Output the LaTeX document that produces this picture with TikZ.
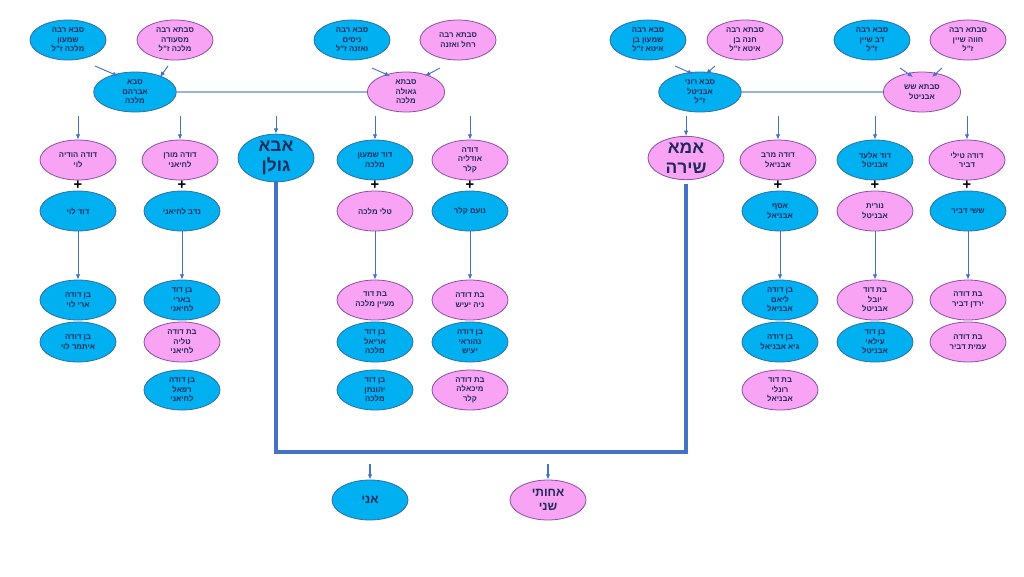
\documentclass[tikz,border=0pt]{standalone}
\usepackage{fontspec}
\setmainfont{Liberation Sans}
\usetikzlibrary{shapes.geometric,arrows.meta}
\TeXXeTstate=1
\newcommand{\heb}[1]{\beginR #1\endR}
\definecolor{bfill}{HTML}{00B0F0}
\definecolor{bdraw}{HTML}{2F6EA8}
\definecolor{pfill}{HTML}{F9A3F5}
\definecolor{pdraw}{HTML}{8A4FA8}
\definecolor{txt}{HTML}{1F2A5A}
\definecolor{arc}{HTML}{4472C4}
\definecolor{thinl}{HTML}{9DB3D6}
\begin{document}
\begin{tikzpicture}[x=0.75pt,y=-0.75pt,
 base/.style={ellipse,line width=0.6pt,inner sep=0pt,align=center,text=txt,
   font=\fontsize{5.8}{7.2}\selectfont\bfseries,minimum width=57pt,minimum height=30pt},
 b/.style={base,fill=bfill,draw=bdraw},
 p/.style={base,fill=pfill,draw=pdraw},
 big/.style={font=\fontsize{13}{15}\selectfont\bfseries},
 mid/.style={font=\fontsize{9}{11}\selectfont\bfseries},
 ar/.style={-{Latex[length=4pt,width=3.5pt]},draw=arc,line width=0.7pt},
 pl/.style={font=\fontsize{11}{11}\selectfont\bfseries,text=black,inner sep=0pt},
 thin/.style={draw=thinl,line width=0.8pt},
 thick/.style={draw=arc,line width=2.4pt}]
\useasboundingbox (0,0) rectangle (1024,576);
% great-grandparents
\node[b] (g1) at (68,40) {\heb{סבא רבה}\\\heb{שמעון}\\\heb{מלכה ז"ל}};
\node[p] (g2) at (175,40) {\heb{סבתא רבה}\\\heb{מסעודה}\\\heb{מלכה ז"ל}};
\node[b] (g3) at (352,40) {\heb{סבא רבה}\\\heb{ניסים}\\\heb{ואזנה ז"ל}};
\node[p] (g4) at (458,40) {\heb{סבתא רבה}\\\heb{רחל ואזנה}};
\node[b] (g5) at (648,40) {\heb{סבא רבה}\\\heb{שמעון בן}\\\heb{איטא ז"ל}};
\node[p] (g6) at (745,40) {\heb{סבתא רבה}\\\heb{חנה בן}\\\heb{איטא ז"ל}};
\node[b] (g7) at (872,40) {\heb{סבא רבה}\\\heb{דב שיין}\\\heb{ז"ל}};
\node[p] (g8) at (968,40) {\heb{סבתא רבה}\\\heb{חווה שיין}\\\heb{ז"ל}};
% grandparents
\node[b,minimum width=62pt] (a1) at (135,92) {\heb{סבא}\\\heb{אברהם}\\\heb{מלכה}};
\node[p,minimum width=58pt] (a2) at (406,92) {\heb{סבתא}\\\heb{גאולה}\\\heb{מלכה}};
\node[b,minimum width=62pt] (a3) at (700,92) {\heb{סבא רוני}\\\heb{אבניטל}\\\heb{ז"ל}};
\node[p,minimum width=58pt] (a4) at (922,92) {\heb{סבתא שש}\\\heb{אבניטל}};
\draw[thin] (a1) -- (a2);
\draw[thin] (a3) -- (a4);
\coordinate (t1) at (95,66); \coordinate (t2) at (168,66);
\coordinate (t3) at (372,68); \coordinate (t4) at (440,68);
\coordinate (t5) at (675,66); \coordinate (t6) at (715,66);
\coordinate (t7) at (900,68); \coordinate (t8) at (942,68);
\draw[ar] (t1) -- (118,76); \draw[ar] (t2) -- (160,77);
\draw[ar] (t3) -- (390,76); \draw[ar] (t4) -- (425,76);
\draw[ar] (t5) -- (693,74); \draw[ar] (t6) -- (706,74);
\draw[ar] (t7) -- (913,77); \draw[ar] (t8) -- (932,77);
% children
\node[p] (c1) at (78,160) {\heb{דודה הודיה}\\\heb{לוי}};
\node[p] (c2) at (180,160) {\heb{דודה מורן}\\\heb{לחיאני}};
\node[b,big] (dad) at (276,158) {\heb{אבא}\\\heb{גולן}};
\node[b] (c3) at (375,160) {\heb{דוד שמעון}\\\heb{מלכה}};
\node[p] (c4) at (470,160) {\heb{דודה}\\\heb{אודליה}\\\heb{קלר}};
\node[p,big] (mom) at (686,158) {\heb{אמא}\\\heb{שירה}};
\node[p] (c5) at (778,160) {\heb{דודה מרב}\\\heb{אבניאל}};
\node[b] (c6) at (875,160) {\heb{דוד אלעד}\\\heb{אבניטל}};
\node[p] (c7) at (967,160) {\heb{דודה טילי}\\\heb{דביר}};
\foreach \n/\x in {c1/78,c2/180,dad/276,c3/375,c4/470,mom/686,c5/778,c6/875,c7/967}{
  \coordinate (s\n) at (\x,116);
  \draw[ar] (s\n) -- (\n.north);
}
\foreach \x in {78,182,375,470,778,875,967}{\node[pl] at (\x,185) {+};}
% spouses
\node[b] (d1) at (78,211) {\heb{דוד לוי}};
\node[b] (d2) at (182,211) {\heb{נדב לחיאני}};
\node[p] (d3) at (375,211) {\heb{טלי מלכה}};
\node[b] (d4) at (470,211) {\heb{נועם קלר}};
\node[b] (d5) at (780,211) {\heb{אסף}\\\heb{אבניאל}};
\node[p] (d6) at (875,211) {\heb{נורית}\\\heb{אבניטל}};
\node[b] (d7) at (968,211) {\heb{ששי דביר}};
% grandchildren
\node[b] (e11) at (78,300) {\heb{בן דודה}\\\heb{ארי לוי}};
\node[b] (e12) at (78,342) {\heb{בן דודה}\\\heb{איתמר לוי}};
\node[b] (e21) at (182,300) {\heb{בן דוד}\\\heb{בארי}\\\heb{לחיאני}};
\node[p] (e22) at (182,342) {\heb{בת דודה}\\\heb{טליה}\\\heb{לחיאני}};
\node[b] (e23) at (182,390) {\heb{בן דודה}\\\heb{רפאל}\\\heb{לחיאני}};
\node[p] (e31) at (375,300) {\heb{בת דוד}\\\heb{מעיין מלכה}};
\node[b] (e32) at (375,342) {\heb{בן דוד}\\\heb{אריאל}\\\heb{מלכה}};
\node[b] (e33) at (375,390) {\heb{בן דוד}\\\heb{יהונתן}\\\heb{מלכה}};
\node[p] (e41) at (470,300) {\heb{בת דודה}\\\heb{ניה יעיש}};
\node[b] (e42) at (470,342) {\heb{בן דודה}\\\heb{נהוראי}\\\heb{יעיש}};
\node[p] (e43) at (470,390) {\heb{בת דודה}\\\heb{מיכאלה}\\\heb{קלר}};
\node[b] (e51) at (780,300) {\heb{בן דודה}\\\heb{ליאם}\\\heb{אבניאל}};
\node[b] (e52) at (780,342) {\heb{בן דודה}\\\heb{גיא אבניאל}};
\node[p] (e53) at (780,390) {\heb{בת דוד}\\\heb{רונלי}\\\heb{אבניאל}};
\node[p] (e61) at (875,300) {\heb{בת דוד}\\\heb{יובל}\\\heb{אבניטל}};
\node[b] (e62) at (875,342) {\heb{בן דוד}\\\heb{עילאי}\\\heb{אבניטל}};
\node[p] (e71) at (968,300) {\heb{בת דודה}\\\heb{ירדן דביר}};
\node[p] (e72) at (968,342) {\heb{בת דודה}\\\heb{עמית דביר}};
\foreach \a/\b in {d1/e11,d2/e21,d3/e31,d4/e41,d5/e51,d6/e61,d7/e71}{
  \draw[ar] (\a.south) -- (\b.north);
}
% parents' line
\coordinate (k1) at (276,452); \coordinate (k2) at (686,452);
\draw[thick] (dad.south) -- (k1) -- (k2) -- ([yshift=-3pt]mom.south);
% me and sister
\node[b,mid] (me) at (370,500) {\heb{אני}};
\node[p,mid] (sis) at (548,500) {\heb{אחותי}\\\heb{שני}};
\coordinate (m0) at (370,464); \coordinate (s0) at (548,464);
\draw[ar,line width=1.2pt] (m0) -- (me.north);
\draw[ar,line width=1.2pt] (s0) -- (sis.north);
\end{tikzpicture}
\end{document}
